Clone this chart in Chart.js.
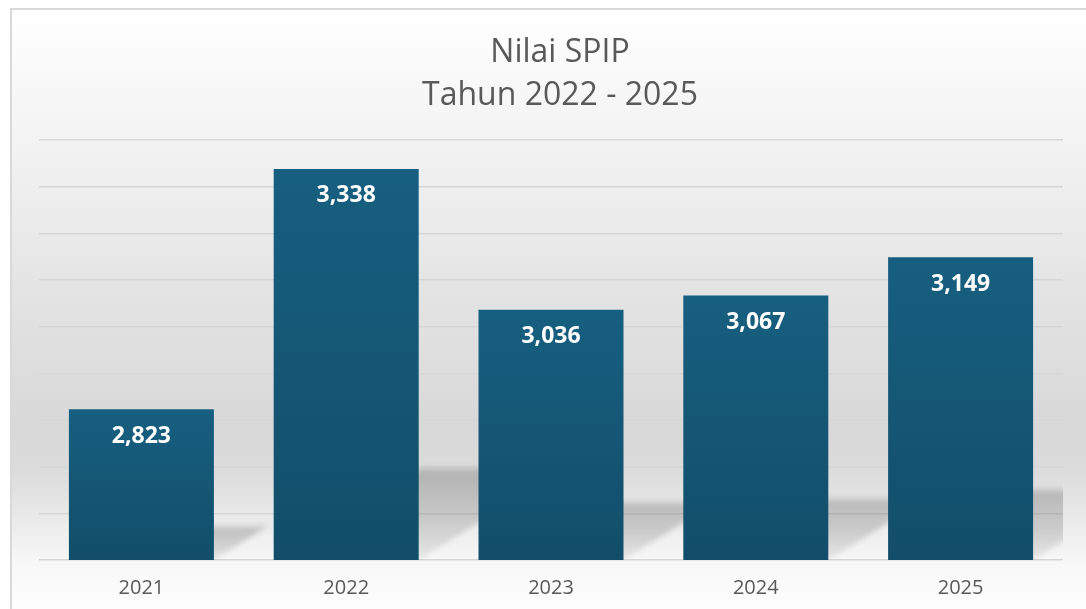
<!DOCTYPE html>
<html><head><meta charset="utf-8">
<script src="https://cdn.jsdelivr.net/npm/chart.js@4.4.1/dist/chart.umd.min.js"></script>
<style>
html,body{margin:0;padding:0;background:#fff;overflow:hidden;width:1086px;height:609px}
canvas{display:block}
</style></head><body>
<canvas id="c" width="1086" height="625"></canvas>
<script>
const categories = ['2021', '2022', '2023', '2024', '2025'];
const nilaiSPIP = [2.823, 3.338, 3.036, 3.067, 3.149];
const valueLabels = ['2,823', '3,338', '3,036', '3,067', '3,149'];
const titleLines = ['Nilai SPIP', 'Tahun 2022 - 2025'];
const yMin = 2.5, yMax = 3.4, yStep = 0.1;

const FONT = '"Open Sans", "Liberation Sans", Arial, sans-serif';

const bgPlugin = {
  id: 'bg',
  beforeDraw(chart) {
    const c = chart.ctx, W = chart.width, H = chart.height;
    c.save();
    c.fillStyle = '#ffffff';
    c.fillRect(0, 0, W, H);
    const g = c.createLinearGradient(0, 8, 0, 609);
    g.addColorStop(0, '#ffffff');
    g.addColorStop(132 / 601, '#f3f3f3');
    g.addColorStop(290 / 601, '#e3e3e3');
    g.addColorStop(420 / 601, '#d8d8d8');
    g.addColorStop(465 / 601, '#dcdcdc');
    g.addColorStop(525 / 601, '#eeeeee');
    g.addColorStop(557 / 601, '#f8f8f8');
    g.addColorStop(1, '#fdfdfd');
    c.fillStyle = g;
    c.fillRect(10, 8, W - 10, H - 8);
    c.fillStyle = '#d9d9d9';
    c.fillRect(10, 8, W - 10, 2);
    c.fillRect(10, 8, 2, H - 8);
    c.restore();
  }
};

const titlePlugin = {
  id: 'titleText',
  afterDraw(chart) {
    const c = chart.ctx;
    c.save();
    c.fillStyle = '#595959';
    c.font = '32px ' + FONT;
    c.textAlign = 'center';
    c.textBaseline = 'alphabetic';
    c.fillText(titleLines[0], 560, 62);
    c.fillText(titleLines[1], 560, 105);
    c.restore();
  }
};

const shadowPlugin = {
  id: 'barShadow',
  beforeDatasetsDraw(chart) {
    const c = chart.ctx, ca = chart.chartArea;
    const meta = chart.getDatasetMeta(0);
    const base = chart.scales.y.getPixelForValue(yMin);
    c.save();
    c.beginPath();
    c.rect(ca.left, ca.top, ca.right - ca.left, ca.bottom - ca.top);
    c.clip();
    c.filter = 'blur(2.5px)';
    meta.data.forEach(el => {
      const l = el.x - el.width / 2, r = el.x + el.width / 2;
      const h = base - el.y;
      const sh = 0.24 * h, dx = 1.6 * sh;
      const g = c.createLinearGradient(0, base - sh, 0, base);
      const soft = Math.min(0.3, 6 / sh);
      g.addColorStop(0, 'rgba(0,0,0,0.02)');
      g.addColorStop(soft, 'rgba(0,0,0,0.18)');
      g.addColorStop(0.55, 'rgba(0,0,0,0.14)');
      g.addColorStop(1, 'rgba(0,0,0,0.06)');
      c.fillStyle = g;
      c.beginPath();
      c.moveTo(l, base);
      c.lineTo(r, base);
      c.lineTo(r + dx, base - sh);
      c.lineTo(l + dx, base - sh);
      c.closePath();
      c.fill();
    });
    c.restore();
  }
};

const labelPlugin = {
  id: 'valueLabels',
  afterDatasetsDraw(chart) {
    const c = chart.ctx;
    const meta = chart.getDatasetMeta(0);
    c.save();
    c.fillStyle = '#ffffff';
    c.font = 'bold 23px ' + FONT;
    c.textAlign = 'center';
    c.textBaseline = 'middle';
    meta.data.forEach((el, i) => {
      c.fillText(valueLabels[i], el.x, el.y + 27);
    });
    c.restore();
  }
};

new Chart(document.getElementById('c'), {
  type: 'bar',
  data: {
    labels: categories,
    datasets: [{
      label: 'Nilai SPIP',
      data: nilaiSPIP,
      backgroundColor: ctx => {
        const chart = ctx.chart;
        if (!chart.chartArea || ctx.type !== 'data') return '#165a79';
        const ys = chart.scales.y;
        const top = ys.getPixelForValue(ctx.raw);
        const bot = ys.getPixelForValue(yMin);
        const g = chart.ctx.createLinearGradient(0, top, 0, bot);
        g.addColorStop(0, '#175f80');
        g.addColorStop(1, '#124e69');
        return g;
      },
      borderWidth: 0,
      categoryPercentage: 1,
      barPercentage: 0.708
    }]
  },
  options: {
    responsive: false,
    animation: false,
    layout: { padding: { left: 39, right: 23, top: 140, bottom: 9 } },
    plugins: {
      legend: { display: false },
      title: { display: false },
      tooltip: { enabled: false }
    },
    scales: {
      x: {
        grid: { display: false, drawTicks: false },
        border: { display: false },
        ticks: { color: '#595959', font: { family: FONT, size: 20 }, padding: 16 }
      },
      y: {
        min: yMin, max: yMax,
        ticks: { display: false, stepSize: yStep },
        grid: { color: '#d6d6d6', lineWidth: 1.5, drawTicks: false },
        border: { display: false }
      }
    }
  },
  plugins: [bgPlugin, shadowPlugin, labelPlugin, titlePlugin]
});
</script>
</body></html>
